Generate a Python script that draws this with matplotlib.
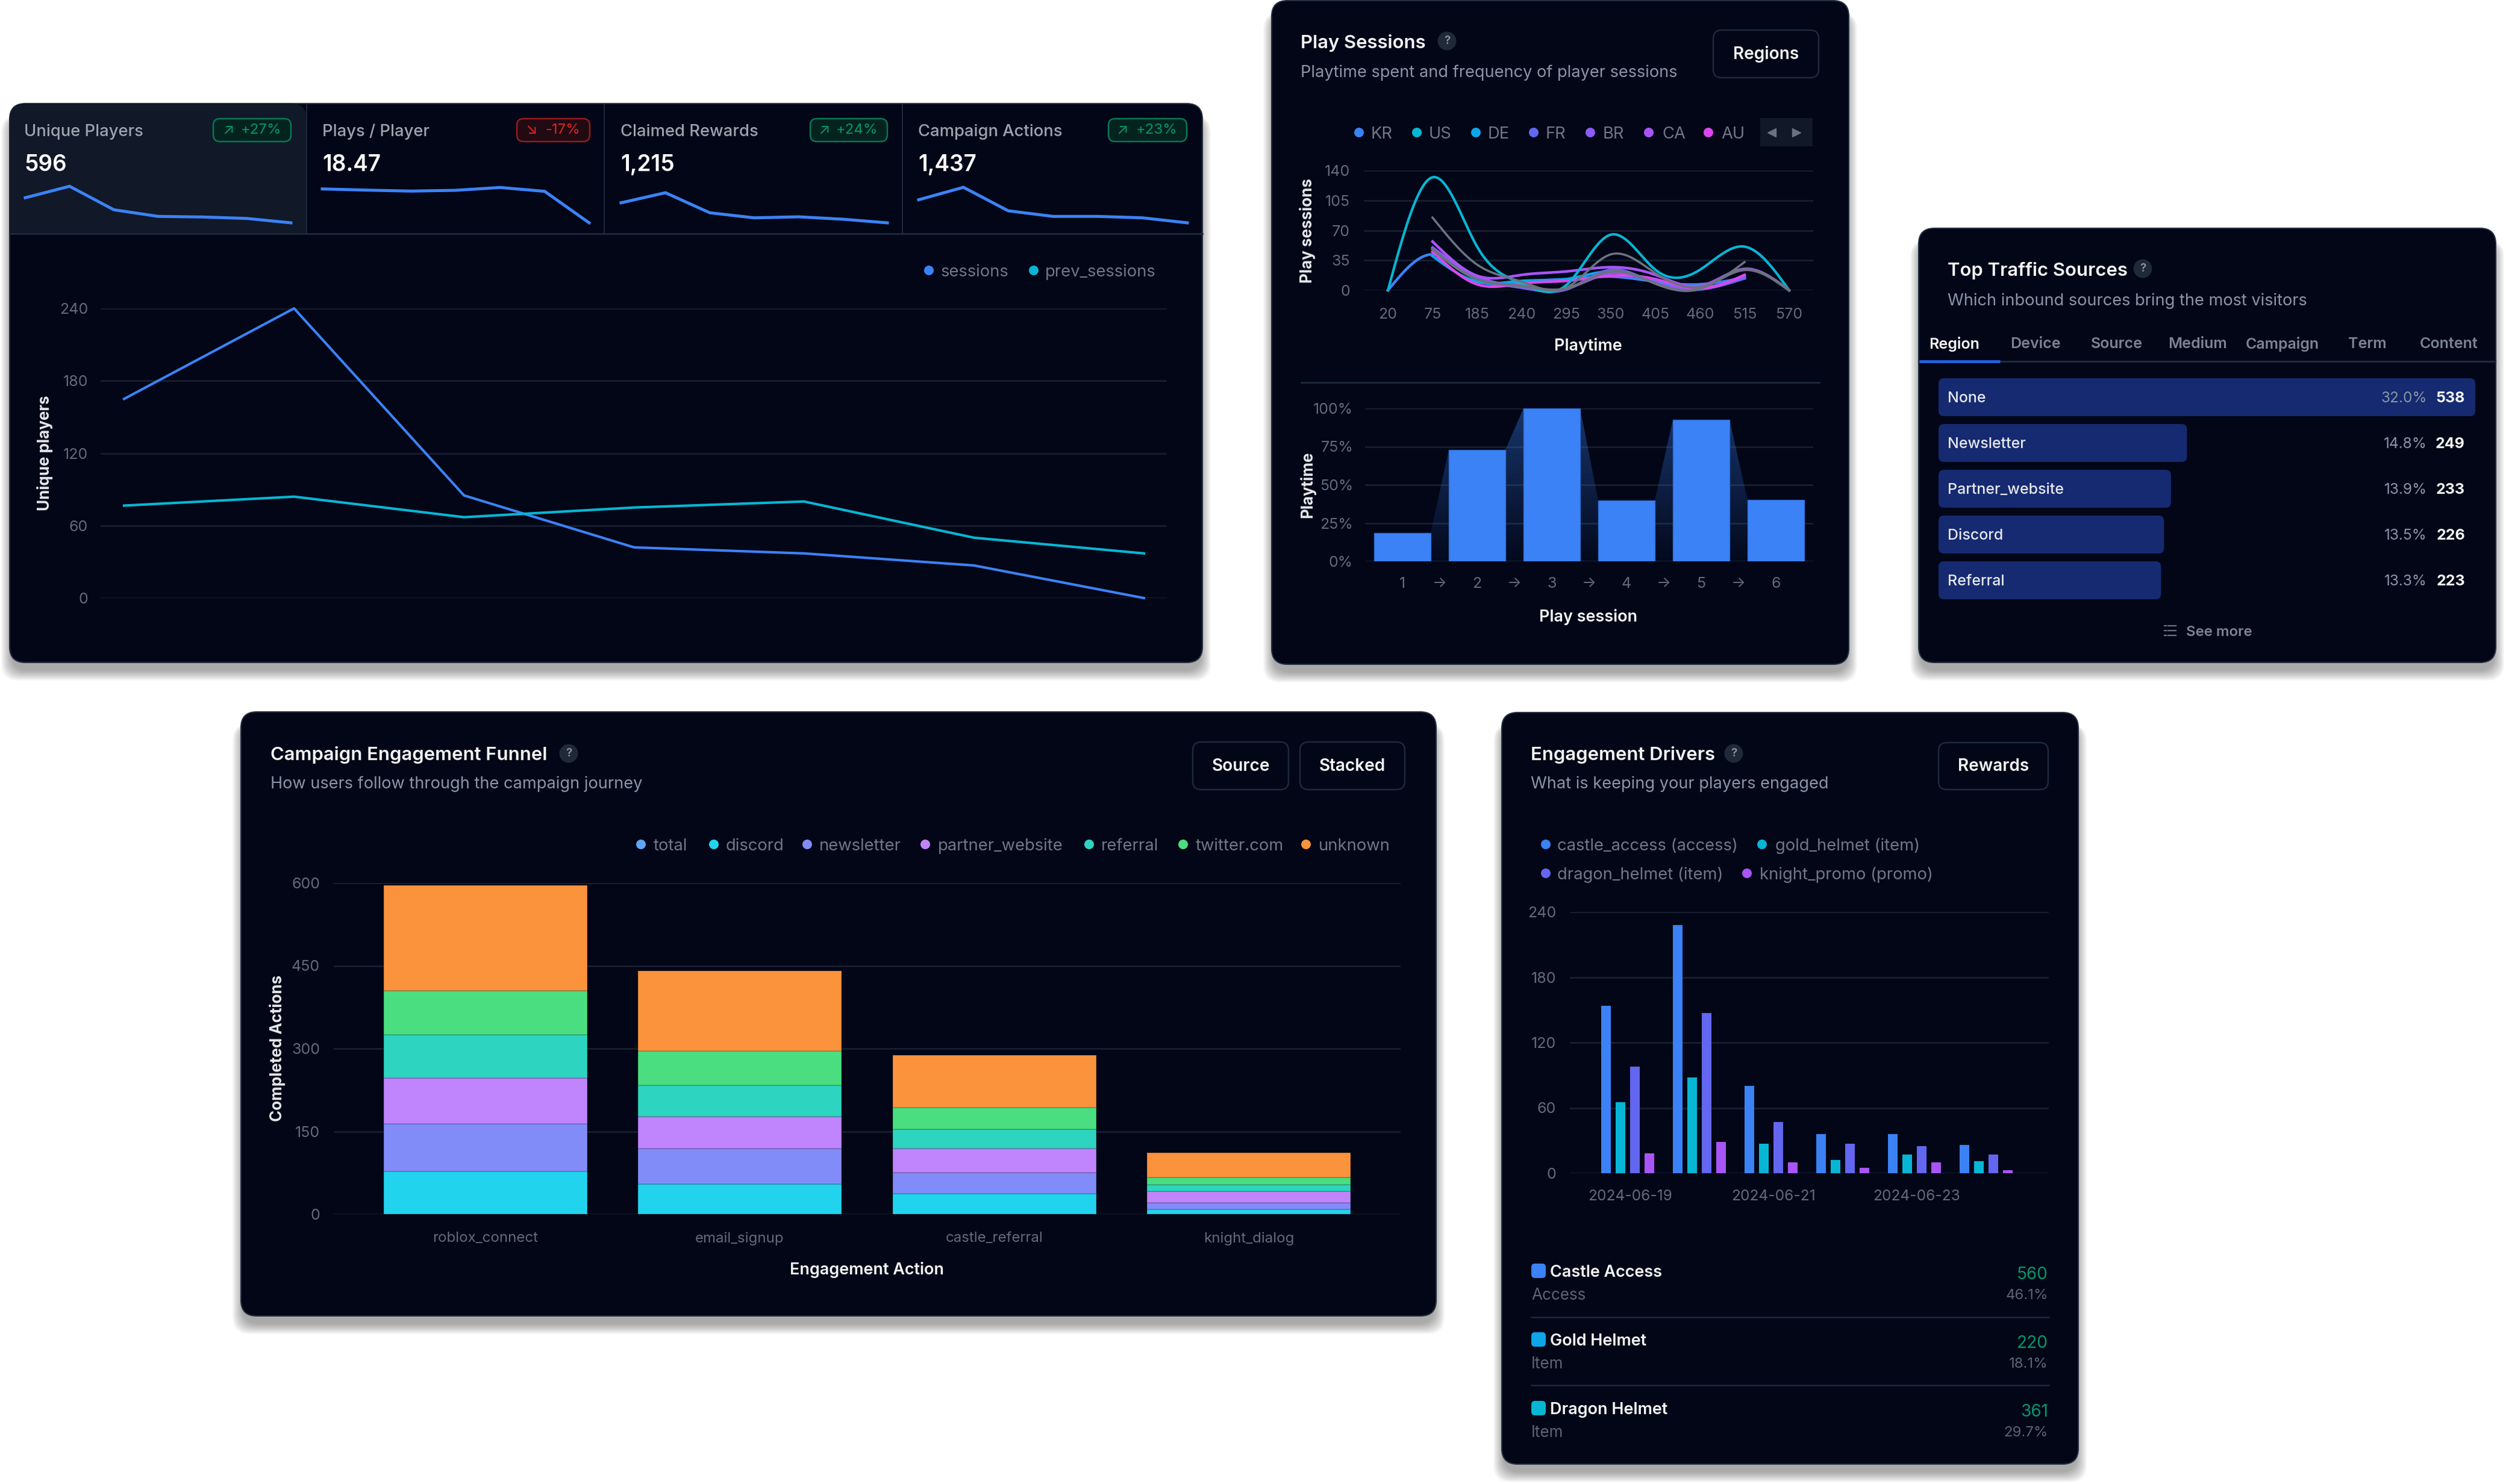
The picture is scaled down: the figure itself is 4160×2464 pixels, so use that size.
import numpy as np
import matplotlib
matplotlib.use('Agg')
import matplotlib.pyplot as plt
from matplotlib.patches import FancyBboxPatch, Polygon, Circle

plt.rcParams['font.family'] = ['Inter', 'DejaVu Sans']

W, H = 4160, 2464

# kpi row
kpi_names = ['Unique Players', 'Plays / Player', 'Claimed Rewards', 'Campaign Actions']
kpi_values = ['596', '18.47', '1,215', '1,437']
kpi_changes = ['+27%', '-17%', '+24%', '+23%']
spark_players = [41.7, 60.7, 21.7, 10.7, 9.7, 7.3, 0]
spark_plays = [56.3, 54.3, 52.7, 54, 58.7, 52.3, 0]
spark_rewards = [33.3, 50, 16.7, 8.3, 10, 6, 0]
spark_actions = [38.3, 59, 20, 10.7, 10.7, 8.3, 0]

# unique players chart
sessions = [165, 240, 85, 42, 37, 27, 0]
prev_sessions = [76.6, 84, 67, 75, 80, 50, 37]
players_ticks = [0, 60, 120, 180, 240]

# play sessions chart
playtime_labels = ['20', '75', '185', '240', '295', '350', '405', '460', '515', '570']
region_names = ['KR', 'US', 'DE', 'FR', 'BR', 'CA', 'AU']
region_colors = ['#3b82f6', '#06b6d4', '#0ea5e9', '#6366f1', '#8b5cf6', '#a855f7', '#d946ef']
nan = float('nan')
kr = [0, 42, 12, 10, 13, 16, 10, 7, 15, nan]
us = [0, 132, 51, 8, 6, 65, 24, 24, 51, 0]
de = [nan, 40, 10, 11, 13, 22, 10, 3, 14, nan]
fr = [nan, 48, 14, 3, 1, 24, 8, 1, 14, nan]
br = [nan, 50, 16, 4, 2, 20, 9, 2, 16, nan]
ca = [nan, 57, 17, 18, 22, 27, 18, 5, 25, 0]
au = [nan, 45, 7, 8, 11, 17, 13, 2, 18, nan]
prev_a = [nan, 85, 30, 10, 3, 42, 20, 4, 33, nan]
prev_b = [nan, 48, 13, 5, 2, 22, 8, 2, 24, 0]

# retention bars
session_labels = ['1', '2', '3', '4', '5', '6']
session_pct = [18.7, 72.9, 100, 39.8, 92.7, 40]

# traffic sources
tab_names = ['Region', 'Device', 'Source', 'Medium', 'Campaign', 'Term', 'Content']
source_names = ['None', 'Newsletter', 'Partner_website', 'Discord', 'Referral']
source_pct = ['32.0%', '14.8%', '13.9%', '13.5%', '13.3%']
source_counts = [538, 249, 233, 226, 223]

# funnel
funnel_actions = ['roblox_connect', 'email_signup', 'castle_referral', 'knight_dialog']
funnel_names = ['total', 'discord', 'newsletter', 'partner_website', 'referral', 'twitter.com', 'unknown']
funnel_colors = ['#60a5fa', '#22d3ee', '#818cf8', '#c084fc', '#2dd4bf', '#4ade80', '#fb923c']
f_total = [0, 0, 0, 0]
f_discord = [77, 55, 37, 9]
f_newsletter = [87, 64, 38, 12]
f_partner = [83, 58, 44, 20]
f_referral = [78, 56, 35, 12]
f_twitter = [80, 63, 39, 14]
f_unknown = [191, 145, 95, 44]

# engagement drivers
driver_dates = ['2024-06-19', '2024-06-20', '2024-06-21', '2024-06-22', '2024-06-23', '2024-06-24']
castle_access = [154, 228, 80, 36, 36, 26]
gold_helmet = [65, 88, 27, 12, 17, 11]
dragon_helmet = [98, 147, 47, 27, 25, 17]
knight_promo = [18, 29, 10, 5, 10, 3]
driver_colors = ['#3b82f6', '#06b6d4', '#6366f1', '#a855f7']
row_names = ['Castle Access', 'Gold Helmet', 'Dragon Helmet']
row_types = ['Access', 'Item', 'Item']
row_totals = ['560', '220', '361']
row_shares = ['46.1%', '18.1%', '29.7%']
row_colors = ['#3b82f6', '#0ea5e9', '#06b6d4']

PANEL = '#020617'
EDGE = '#252e40'
GRID = '#161d2e'
TICK = '#626b79'
LEG = '#6f7785'
SUB = '#8a94a6'
WHITE = '#f3f4f6'
GREEN = '#059669'
RED = '#dc2626'


def pt(px):
    return px * 0.72


fig = plt.figure(figsize=(W / 100, H / 100), dpi=100, facecolor='white')

# background layer in pixel coordinates
bg = fig.add_axes([0, 0, 1, 1], zorder=0)
bg.set_xlim(0, W)
bg.set_ylim(H, 0)
bg.axis('off')

# text layer, same coordinates
top = fig.add_axes([0, 0, 1, 1], zorder=10)
top.set_xlim(0, W)
top.set_ylim(H, 0)
top.axis('off')
top.patch.set_alpha(0)


def text(x, y, s, size=26, color=WHITE, weight='normal', ha='left', rotation=0):
    if not rotation:
        y += 3
    top.text(x, y, s, fontsize=pt(size), color=color, fontweight=weight, ha=ha,
             va='center', rotation=rotation, rotation_mode='anchor' if rotation else 'default')


def round_box(ax, x0, y0, x1, y1, r, fc, ec='none', lw=0, alpha=None, z=1):
    p = FancyBboxPatch((x0, y0), x1 - x0, y1 - y0, boxstyle='round,pad=0,rounding_size=%g' % r,
                       fc=fc, ec=ec, lw=lw, alpha=alpha, zorder=z)
    ax.add_patch(p)


def panel(x0, y0, x1, y1):
    # soft drop shadow under the card
    for g in range(12):
        grow = 16 - g * 1.5
        round_box(bg, x0 - grow + 2, y0 + 20, x1 + grow - 2, y1 + grow + 14, 28, '#000000',
                  alpha=0.03, z=1)
    round_box(bg, x0, y0, x1, y1, 26, PANEL, ec=EDGE, lw=1.5, z=2)


def inset(x0, y0, x1, y1):
    ax = fig.add_axes([x0 / W, 1 - y1 / H, (x1 - x0) / W, (y1 - y0) / H], zorder=5)
    ax.patch.set_alpha(0)
    for s in ax.spines.values():
        s.set_visible(False)
    ax.tick_params(length=0)
    return ax


def style_grid(ax, ticks, labels, pad):
    ax.set_yticks(ticks)
    ax.set_yticklabels(labels, fontsize=pt(25), color=TICK)
    ax.tick_params(axis='y', pad=pt(pad))
    ax.grid(axis='y', color=GRID, lw=2.2, zorder=0)
    ax.set_axisbelow(True)


def header(x, title, sub, q_x, title_y, sub_y):
    text(x, title_y, title, 31, WHITE, 'semibold')
    text(x, sub_y, sub, 27.2, SUB)
    top.add_patch(Circle((q_x, title_y), 15.5, fc='#1f2937', ec='none'))
    text(q_x, title_y - 3, '?', 19, '#8a94a6', 'semibold', ha='center')


def button(x0, y0, x1, y1, label):
    round_box(top, x0, y0, x1, y1, 14, PANEL, ec='#1e293b', lw=1.8, z=1)
    text((x0 + x1) / 2, (y0 + y1) / 2 - 2, label, 28, WHITE, 'semibold', ha='center')


def legend(dots, starts, y, names, colors):
    for dx, sx, n, c in zip(dots, starts, names, colors):
        top.add_patch(Circle((dx, y), 8, fc=c, ec='none'))
        text(sx, y, n, 27.4, LEG)


def natural_spline(xs, ys, n=40):
    xs = np.asarray(xs, float)
    ys = np.asarray(ys, float)
    m = len(xs)
    A = np.zeros((m, m))
    b = np.zeros(m)
    A[0, 0] = A[-1, -1] = 1
    for i in range(1, m - 1):
        A[i, i - 1:i + 2] = [1, 4, 1]
        b[i] = 6 * (ys[i - 1] - 2 * ys[i] + ys[i + 1])
    k = np.linalg.solve(A, b)
    ox, oy = [], []
    for i in range(m - 1):
        t = np.linspace(0, 1, n)
        oy.append((1 - t) * ys[i] + t * ys[i + 1]
                  + ((1 - t) ** 3 - (1 - t)) * k[i] / 6 + (t ** 3 - t) * k[i + 1] / 6)
        ox.append(xs[i] + t)
    return np.concatenate(ox), np.concatenate(oy)


# ---- Unique players card ----
panel(16, 172, 1996, 1100)
round_box(bg, 16, 172, 509, 388, 26, '#111827', z=3)
bg.fill_between([40, 509], 300, 387, color='#111827', zorder=3, lw=0)
bg.fill_between([16, 509], 340, 387, color='#111827', zorder=3, lw=0)
bg.plot([16, 1996], [388, 388], color='#1e293b', lw=2, zorder=4)
for x in [509, 1003, 1498]:
    bg.plot([x, x], [172, 388], color='#1e293b', lw=1.4, zorder=4)

kpi_x = [40, 535, 1030, 1524]
badge_box = [(354, 483), (858, 979), (1345, 1473), (1840, 1970)]
arrow_x = [379, 882, 1368, 1863]
pct_right = [467, 963, 1457, 1954]
spark_box = [(42, 483), (535, 978), (1031, 1473), (1525, 1971)]
sparks = [spark_players, spark_plays, spark_rewards, spark_actions]
for i in range(4):
    text(kpi_x[i], 216, kpi_names[i], 27.4, '#9ca3af', 'medium')
    text(kpi_x[i], 271, kpi_values[i], 37, '#ffffff', 'semibold')
    up = kpi_changes[i].startswith('+')
    col = GREEN if up else RED
    round_box(top, badge_box[i][0], 197, badge_box[i][1], 235, 11,
              '#04231f' if up else '#220a12', ec='#047857' if up else '#991b1b', lw=1.8, z=1)
    text(arrow_x[i], 213, '↗' if up else '↘', 25, col, ha='center')
    text(pct_right[i], 213, kpi_changes[i], 24, col, ha='right')
    sp = inset(spark_box[i][0], 300, spark_box[i][1], 370)
    sp.plot(range(7), sparks[i], color='#3b82f6', lw=3.6, solid_joinstyle='miter', clip_on=False)
    sp.set_xlim(0, 6)
    sp.set_ylim(0, 70)
    sp.set_xticks([])
    sp.set_yticks([])

legend([1542, 1716], [1562, 1735], 449, ['sessions', 'prev_sessions'], ['#3b82f6', '#06b6d4'])
ax = inset(167, 512, 1937, 993)
step = (1899 - 206) / 6
ax.set_xlim(-(206 - 167) / step, 6 + (1937 - 1899) / step)
ax.set_ylim(0, 240)
style_grid(ax, players_ticks, [str(v) for v in players_ticks], 21)
ax.plot(range(7), sessions, color='#3b82f6', lw=3, clip_on=False)
ax.plot(range(7), prev_sessions, color='#06b6d4', lw=3, clip_on=False)
ax.set_xticks([])
text(75, 752, 'Unique players', 26, '#e5e7eb', 'bold', ha='center', rotation=90)

# ---- Play sessions card ----
panel(2111, 1, 3069, 1103)
header(2159, 'Play Sessions', 'Playtime spent and frequency of player sessions', 2402, 68, 118)
button(2844, 50, 3019, 129, 'Regions')
legend([2256, 2352, 2450, 2546, 2640, 2737, 2836], [2276, 2372, 2470, 2566, 2661, 2759, 2857],
       220, region_names, region_colors)
bg.fill_between([2922, 3009], 196, 243, color='#111827', zorder=3, lw=0)
top.plot([2941], [220], marker='<', ms=10, color='#6b7280')
top.plot([2982], [220], marker='>', ms=10, color='#6b7280')

ax = inset(2264, 283, 3010, 482)
ax.set_xlim(-(2304 - 2264) / 74, 9 + (3010 - 2970) / 74)
ax.set_ylim(0, 140)
style_grid(ax, [0, 35, 70, 105, 140], ['0', '35', '70', '105', '140'], 23)
ax.set_xticks(range(10))
ax.set_xticklabels(playtime_labels, fontsize=pt(25), color=TICK)
ax.tick_params(axis='x', pad=pt(29))
for vals, c, lw in [(kr, region_colors[0], 3.2), (de, region_colors[2], 3.2), (fr, region_colors[3], 3.2),
                    (br, region_colors[4], 3.2), (ca, region_colors[5], 3.2), (au, region_colors[6], 3.2),
                    (us, region_colors[1], 3), (prev_a, '#6b7280', 2.6), (prev_b, '#6b7280', 3.4)]:
    xs = [i for i, v in enumerate(vals) if v == v]
    ys = [vals[i] for i in xs]
    sx, sy = natural_spline(xs, ys)
    ax.plot(sx, sy, color=c, lw=lw, clip_on=False)
text(2636, 572, 'Playtime', 27, WHITE, 'semibold', ha='center')
text(2171, 383, 'Play sessions', 26, '#e5e7eb', 'bold', ha='center', rotation=90)

bg.plot([2160, 3020], [635, 635], color='#1e293b', lw=2, zorder=4)
ax = inset(2266, 678, 3010, 932)
ax.set_xlim(-(2328 - 2266) / 124, 5 + (3010 - 2948) / 124)
ax.set_ylim(0, 100)
pct_ticks = [0, 25, 50, 75, 100]
style_grid(ax, pct_ticks, ['%d%%' % v for v in pct_ticks], 20)
bar_w = 94 / 124
ramp = np.zeros((64, 2, 4))
ramp[..., :3] = matplotlib.colors.to_rgb('#3b82f6')
ramp[..., 3] = np.linspace(0.38, 0.03, 64)[:, None]
for i in range(5):
    x0, x1 = i + bar_w / 2, i + 1 - bar_w / 2
    v0, v1 = session_pct[i], session_pct[i + 1]
    im = ax.imshow(ramp, extent=(x0, x1, 0, 100), aspect='auto', origin='upper', zorder=1)
    poly = Polygon([(x0, 0), (x0, v0), (x1, v1), (x1, 0)], transform=ax.transData, fc='none', ec='none')
    ax.add_patch(poly)
    im.set_clip_path(poly)
ax.bar(range(6), session_pct, width=bar_w, color='#3b82f6', edgecolor='#2f6bd0', lw=1, zorder=3)
ax.set_xlim(-(2328 - 2266) / 124, 5 + (3010 - 2948) / 124)
ax.set_ylim(0, 100)
ax.set_xticks(range(6))
ax.set_xticklabels(session_labels, fontsize=pt(25), color=TICK)
ax.tick_params(axis='x', pad=pt(26))
for i in range(5):
    ax.annotate('→', (i + 0.5, 0), xytext=(0, -pt(37)), textcoords='offset points', ha='center', va='center',
                fontsize=pt(25), color=TICK, annotation_clip=False)
text(2637, 1021, 'Play session', 27, WHITE, 'semibold', ha='center')
text(2171, 805, 'Playtime', 26, '#e5e7eb', 'bold', ha='center', rotation=90)

# ---- Traffic sources card ----
panel(3185, 379, 4143, 1100)
header(3233, 'Top Traffic Sources', 'Which inbound sources bring the most visitors', 3557, 446, 497)
tab_x = [3244, 3379, 3514, 3648, 3789, 3930, 4065]
for i, n in enumerate(tab_names):
    text(tab_x[i], 569, n, 25, WHITE if i == 0 else '#7b8494', 'semibold', ha='center')
bg.plot([3186, 4142], [600, 600], color='#1e293b', lw=2.4, zorder=4)
bg.plot([3186, 3320], [600, 600], color='#2563eb', lw=3.4, zorder=5, solid_capstyle='butt')

ax = inset(3218, 628, 4109, 995)
ax.set_xlim(0, source_counts[0])
ax.set_ylim(4 + 63 / 76 / 2, -63 / 76 / 2)
ax.set_xticks([])
ax.set_yticks([])
x_per_px = source_counts[0] / 891
y_per_px = 1 / 76
for i, v in enumerate(source_counts):
    h = 63 * y_per_px
    ax.add_patch(FancyBboxPatch((0, i - h / 2), v, h,
                                boxstyle='round,pad=0,rounding_size=%g' % (9 * x_per_px),
                                mutation_aspect=y_per_px / x_per_px, fc='#152a70', ec='none'))
    y = 658 + 76 * i
    text(3233, y, source_names[i], 25, '#e5e7eb', 'medium')
    text(4029, y, source_pct[i], 24.5, '#8a94a6', ha='right')
    text(4092, y, str(v), 25, WHITE, 'bold', ha='right')
for y in [1039, 1047, 1055]:
    top.plot([3599, 3612], [y, y], color='#6b7280', lw=1.6)
    top.plot([3593, 3596], [y, y], color='#6b7280', lw=1.6)
text(3629, 1047, 'See more', 24, '#7b8494', 'semibold')

# ---- Funnel card ----
panel(400, 1182, 2384, 2185)
header(449, 'Campaign Engagement Funnel', 'How users follow through the campaign journey', 944, 1251, 1299)
button(1980, 1232, 2139, 1311, 'Source')
button(2158, 1232, 2332, 1311, 'Stacked')
legend([1064, 1185, 1340, 1536, 1808, 1964, 2168], [1085, 1205, 1360, 1557, 1828, 1985, 2189],
       1402, funnel_names, funnel_colors)
ax = inset(554, 1466, 2325, 2016)
ax.set_xlim(-(805.5 - 554) / 422.5, 3 + (2325 - 2073) / 422.5)
ax.set_ylim(0, 600)
style_grid(ax, [0, 150, 300, 450, 600], ['0', '150', '300', '450', '600'], 23)
base = np.zeros(4)
stack = [f_total, f_discord, f_newsletter, f_partner, f_referral, f_twitter, f_unknown]
for vals, c in zip(stack, funnel_colors):
    ax.bar(range(4), vals, bottom=base, width=338 / 422.5, color=c, edgecolor='#00000030', lw=1.2, zorder=3)
    base += np.array(vals)
ax.set_xticks(range(4))
ax.set_xticklabels(funnel_actions, fontsize=pt(24), color=TICK)
ax.tick_params(axis='x', pad=pt(29))
text(1439, 2105, 'Engagement Action', 27, WHITE, 'semibold', ha='center')
text(460, 1740, 'Completed Actions', 26, '#e5e7eb', 'bold', ha='center', rotation=90)

# ---- Engagement drivers card ----
panel(2493, 1183, 3450, 2431)
header(2541, 'Engagement Drivers', 'What is keeping your players engaged', 2878, 1251, 1299)
button(3218, 1233, 3400, 1311, 'Rewards')
legend([2566, 2925], [2585, 2947], 1402, ['castle_access (access)', 'gold_helmet (item)'], driver_colors[:2])
legend([2566, 2900], [2585, 2921], 1450, ['dragon_helmet (item)', 'knight_promo (promo)'], driver_colors[2:])
ax = inset(2606, 1514, 3401, 1948)
ax.set_xlim(-(2702 - 2606) / 119, 5 + (3401 - 3297) / 119)
ax.set_ylim(0, 240)
style_grid(ax, [0, 60, 120, 180, 240], ['0', '60', '120', '180', '240'], 23)
bw = 16 / 119
gap = 24 / 119
x = np.arange(6)
driver_series = [castle_access, gold_helmet, dragon_helmet, knight_promo]
for j, (vals, c) in enumerate(zip(driver_series, driver_colors)):
    ax.bar(x + (j - 1.5) * gap, vals, width=bw, color=c, zorder=3)
ax.set_xticks(x[::2] + 0.03)
ax.set_xticklabels(driver_dates[::2], fontsize=pt(24.5), color=TICK)
ax.tick_params(axis='x', pad=pt(27))

row_y = [0, 114, 228]
for i in range(3):
    dy = row_y[i]
    round_box(top, 2542, 2098 + dy, 2566, 2122 + dy, 6, row_colors[i], z=1)
    text(2573, 2110 + dy, row_names[i], 27, WHITE, 'semibold')
    text(2542, 2148 + dy, row_types[i], 26, '#5b6472')
    text(3400, 2113 + dy, row_totals[i], 28, GREEN, ha='right')
    text(3400, 2148 + dy, row_shares[i], 24, '#5b6472', ha='right')
for y in [2187, 2300]:
    bg.plot([2542, 3401], [y, y], color='#1e293b', lw=1.8, zorder=4)

plt.savefig('out.png', dpi=100, facecolor='white')
